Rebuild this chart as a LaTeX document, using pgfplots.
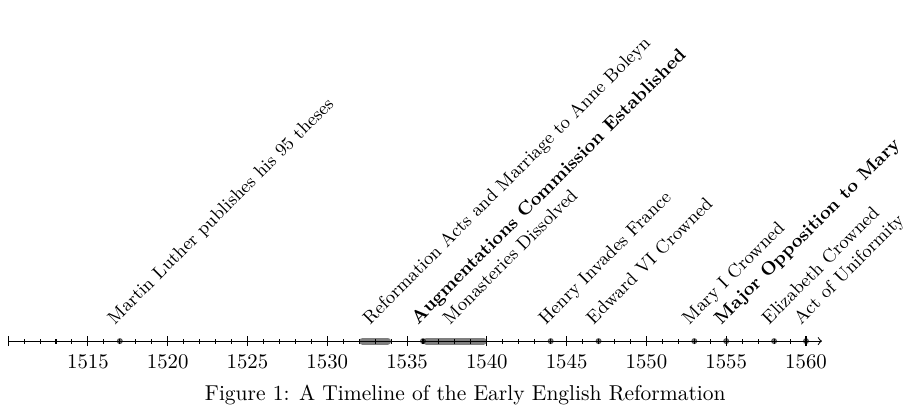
\documentclass[border=0pt]{standalone}
\usepackage{pgfplots}
\pgfplotsset{compat=1.18}
\newcommand{\lab}{\fontsize{8.8pt}{10.5pt}\selectfont}
\tikzset{evlab/.style={rotate=45, anchor=base west, inner sep=0pt, font=\lab}}
\begin{document}
\begin{tikzpicture}
\begin{axis}[
  scale only axis,
  width=391.3pt, height=164pt,
  xmin=1510, xmax=1561, ymin=0, ymax=1,
  axis x line=bottom,
  axis y line=none,
  x axis line style={->, line width=0.5pt},
  xtick={1510,1515,...,1560},
  xticklabels={,1515,1520,1525,1530,1535,1540,1545,1550,1555,1560},
  minor x tick num=4,
  tick align=center,
  major tick length=4.8pt,
  minor tick length=2.4pt,
  tick style={black, line width=0.5pt},
  xticklabel style={anchor=base, yshift=-11pt},
  clip=false,
]
\addplot[black, opacity=0.5, line width=3.3pt, line cap=round, shorten <=1.65pt, shorten >=1.65pt] coordinates {(1532,0) (1534,0)};
\addplot[black, opacity=0.5, line width=3.3pt, line cap=round, shorten <=1.65pt, shorten >=1.65pt] coordinates {(1536,0) (1540,0)};
\addplot[only marks, mark=*, mark size=1.25pt, black, opacity=0.5] coordinates {(1517,0) (1536,0) (1544,0) (1547,0) (1553,0) (1555,0) (1558,0) (1560,0)};

\node[evlab] at ([shift={(-2.5pt,7.6pt)}]axis cs:1517,0) {Martin Luther publishes his 95 theses};
\node[evlab] at ([shift={(-2.5pt,7.6pt)}]axis cs:1533,0) {Reformation Acts and Marriage to Anne Boleyn};
\node[evlab] at ([shift={(-2.5pt,7.6pt)}]axis cs:1536,0) {\textbf{Augmentations Commission Established}};
\node[evlab] at ([shift={(-2.5pt,7.6pt)}]axis cs:1538,0) {Monasteries Dissolved};
\node[evlab] at ([shift={(-2.5pt,7.6pt)}]axis cs:1544,0) {Henry Invades France};
\node[evlab] at ([shift={(-2.5pt,7.6pt)}]axis cs:1547,0) {Edward VI Crowned};
\node[evlab] at ([shift={(-2.5pt,7.6pt)}]axis cs:1553,0) {Mary I Crowned};
\node[evlab] at ([shift={(-2.5pt,7.6pt)}]axis cs:1555,0) {\textbf{Major Opposition to Mary}};
\node[evlab] at ([shift={(-2.5pt,7.6pt)}]axis cs:1558,0) {Elizabeth Crowned};
\node[evlab] at ([shift={(-2.5pt,7.6pt)}]axis cs:1560,0) {Act of Uniformity};

\node[anchor=base, inner sep=0pt, font=\fontsize{10.34pt}{12pt}\selectfont] at ([yshift=-28.6pt]axis cs:1538.65,0) {Figure~1: A Timeline of the Early English Reformation};
\end{axis}
\path ([shift={(-3.9pt,-32pt)}]current axis.south west) rectangle ([shift={(45.7pt,0pt)}]current axis.north east);
\end{tikzpicture}
\end{document}
